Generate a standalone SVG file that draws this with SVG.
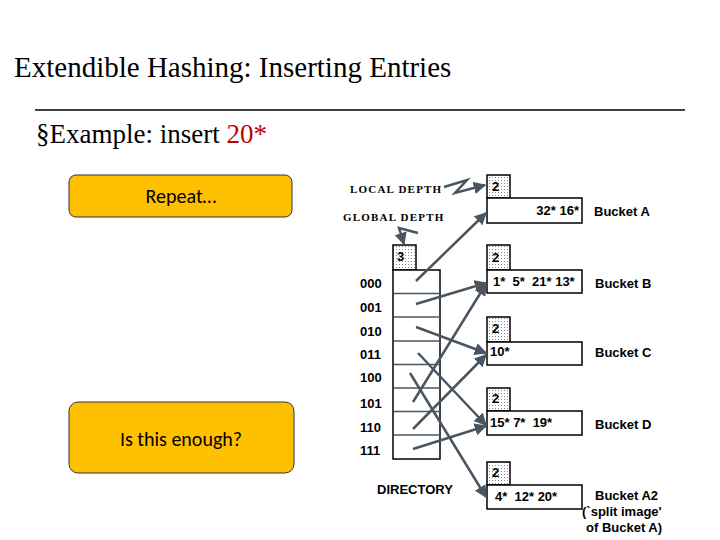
<svg xmlns="http://www.w3.org/2000/svg" width="720" height="540" viewBox="0 0 720 540">
<defs>
<pattern id="dots" width="3" height="3" patternUnits="userSpaceOnUse"><rect width="3" height="3" fill="#fff"/><rect width="1" height="1" fill="#888"/></pattern>
<marker id="ah" viewBox="0 0 10 10" refX="9" refY="5" markerWidth="5" markerHeight="5" orient="auto"><path d="M0,0L10,5L0,10z" fill="#4a5560"/></marker>
</defs>
<style>
.t{font-family:"Liberation Serif",serif;}
.s{font-family:"Liberation Sans",Arial,sans-serif;font-weight:bold;font-size:13px;white-space:pre;}
.m{font-family:"Liberation Serif",serif;font-weight:bold;font-size:11px;letter-spacing:1.2px;}
.box{fill:#fff;stroke:#000;stroke-width:1.5;}
.ld{fill:url(#dots);stroke:#000;stroke-width:1.5;}
.ar{stroke:#4a5560;stroke-width:2.5;fill:none;marker-end:url(#ah);}
.orb{fill:#FFC000;stroke:#333;stroke-width:1;}
.c{font-family:Calibri,"Open Sans",sans-serif;font-size:20px;}
</style>
<text class="t" x="14" y="77" font-size="29">Extendible Hashing: Inserting Entries</text>
<line x1="35" y1="110" x2="685" y2="110" stroke="#000" stroke-width="1.5"/>
<text class="t" x="36" y="143" font-size="27">§Example: insert <tspan fill="#c00000">20*</tspan></text>
<g id="repeat"><rect class="orb" x="69" y="175" width="223" height="42" rx="7"/><text class="c" x="181" y="203" text-anchor="middle">Repeat…</text></g>
<g id="enough"><rect class="orb" x="69" y="402" width="225" height="71" rx="9"/><text class="c" x="181" y="446" text-anchor="middle">Is this enough?</text></g>
<text class="m" x="350" y="193">LOCAL DEPTH</text>
<text class="m" x="343" y="221">GLOBAL DEPTH</text>
<g id="directory">
<rect class="ld" x="393" y="245" width="23" height="25"/><text class="s" x="397" y="261">3</text>
<rect class="box" x="393" y="270" width="47" height="189"/>
<g stroke="#4a5560" stroke-width="1.5"><line x1="393" y1="293.6" x2="440" y2="293.6"/><line x1="393" y1="317" x2="440" y2="317"/><line x1="393" y1="341" x2="440" y2="341"/><line x1="393" y1="364.5" x2="440" y2="364.5"/><line x1="393" y1="388" x2="440" y2="388"/><line x1="393" y1="411.6" x2="440" y2="411.6"/><line x1="393" y1="435" x2="440" y2="435"/></g>
<g class="s"><text x="360" y="288">000</text><text x="360" y="312">001</text><text x="360" y="336">010</text><text x="360" y="359">011</text><text x="360" y="382">100</text><text x="360" y="408">101</text><text x="360" y="432">110</text><text x="360" y="455">111</text></g>
<text class="s" x="377" y="494">DIRECTORY</text>
</g>
<g id="bucketA"><rect class="ld" x="487" y="175" width="23" height="23"/><text class="s" x="492" y="191">2</text><rect class="box" x="487" y="198" width="95" height="25"/><text class="s" x="579" y="215" text-anchor="end">32* 16*</text><text class="s" x="594" y="216">Bucket A</text></g>
<g id="bucketB"><rect class="ld" x="487" y="245" width="23" height="25"/><text class="s" x="492" y="262">2</text><rect class="box" x="487" y="270" width="95" height="23"/><text class="s" x="493" y="286" xml:space="preserve">1*  5*  21* 13*</text><text class="s" x="595" y="288">Bucket B</text></g>
<g id="bucketC"><rect class="ld" x="487" y="317" width="23" height="25"/><text class="s" x="492" y="333">2</text><rect class="box" x="487" y="342" width="95" height="23"/><text class="s" x="490" y="356">10*</text><text class="s" x="595" y="357">Bucket C</text></g>
<g id="bucketD"><rect class="ld" x="487" y="388" width="23" height="23"/><text class="s" x="492" y="403">2</text><rect class="box" x="487" y="411" width="95" height="24"/><text class="s" x="490" y="427" xml:space="preserve">15* 7*  19*</text><text class="s" x="595" y="429">Bucket D</text></g>
<g id="bucketA2"><rect class="ld" x="487" y="462" width="23" height="23"/><text class="s" x="492" y="477">2</text><rect class="box" x="487" y="485" width="95" height="24"/><text class="s" x="495" y="501" xml:space="preserve">4*  12* 20*</text><text class="s" x="595" y="500">Bucket A2</text><text class="s" x="582" y="516">(`split image'</text><text class="s" x="586" y="532">of Bucket A)</text></g>
<g id="connectors">
<polyline class="ar" points="444,187 467,180 455,193 485,185"/>
<polyline class="ar" points="418,233 399,228 404,244"/>
<line class="ar" x1="416" y1="281" x2="486" y2="213"/>
<line class="ar" x1="416" y1="304" x2="486" y2="283"/>
<line class="ar" x1="416" y1="327" x2="486" y2="353"/>
<line class="ar" x1="418" y1="353" x2="486" y2="425"/>
<line class="ar" x1="410" y1="373" x2="486" y2="497"/>
<line class="ar" x1="413" y1="402" x2="486" y2="284"/>
<line class="ar" x1="413" y1="429" x2="486" y2="355"/>
<line class="ar" x1="413" y1="449" x2="486" y2="426"/>
</g>
</svg>
